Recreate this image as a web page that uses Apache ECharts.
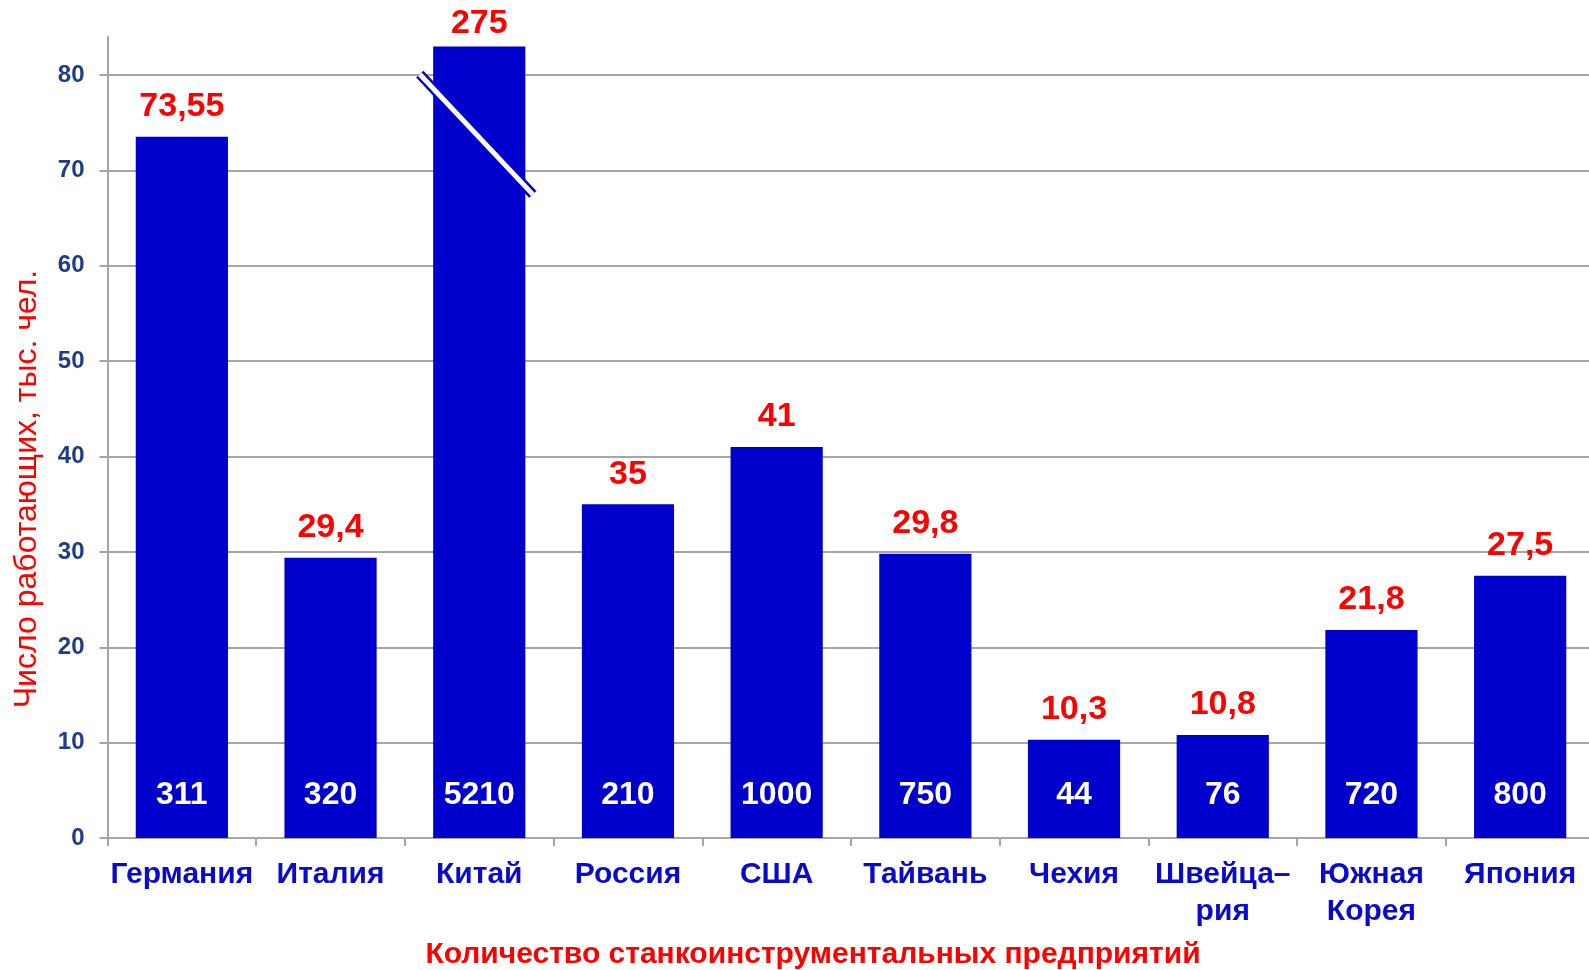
<!DOCTYPE html>
<html>
<head>
<meta charset="utf-8">
<script src="https://cdn.jsdelivr.net/npm/echarts@6/dist/echarts.min.js"></script>
<style>
html,body{margin:0;padding:0;background:#fff;}
#chart{width:1589px;height:970px;}
</style>
</head>
<body>
<div id="chart"></div>
<script>
// ---- data ----
const countries = ['Германия', 'Италия', 'Китай', 'Россия', 'США', 'Тайвань', 'Чехия', 'Швейца–\nрия', 'Южная\nКорея', 'Япония'];
const workers = [73.55, 29.4, 275, 35, 41, 29.8, 10.3, 10.8, 21.8, 27.5];       // тыс. чел.
const enterprises = [311, 320, 5210, 210, 1000, 750, 44, 76, 720, 800];
const yTicks = [0, 10, 20, 30, 40, 50, 60, 70, 80];
const axisCap = 83;        // bars above this are drawn broken
const yMax = 84;
const breakFrom = 80.1;    // value where break mark starts (left end)
const breakTo = 67.5;      // value where break mark ends (right end)

const shown = workers.map(v => v > axisCap ? { value: axisCap, label: { distance: 6 } } : v);
const fmt = v => String(v).replace('.', ',');

const chart = echarts.init(document.getElementById('chart'));
const FONT = '"Liberation Sans", Arial, sans-serif';

const option = {
  animation: false,
  grid: { left: 107.5, width: 1487, top: 37, bottom: 132, containLabel: false, outerBoundsMode: 'none' },
  xAxis: {
    type: 'category',
    data: countries,
    axisLine: { lineStyle: { color: '#a6a6a6', width: 2 } },
    axisTick: { show: true, length: 8, lineStyle: { color: '#a6a6a6', width: 2 } },
    axisLabel: {
      interval: 0, margin: 18, color: '#0a0acc', fontFamily: FONT,
      fontWeight: 'bold', fontSize: 30, lineHeight: 37
    },
    splitLine: { show: false }
  },
  yAxis: {
    type: 'value', min: 0, max: yMax, interval: 10,
    axisLine: { show: true, lineStyle: { color: '#a6a6a6', width: 2 } },
    axisTick: { show: true, length: 8, lineStyle: { color: '#a6a6a6', width: 2 }, customValues: yTicks },
    axisLabel: {
      margin: 23, color: '#1f3c88', fontFamily: FONT, fontWeight: 'bold', fontSize: 24,
      customValues: yTicks
    },
    splitLine: { show: true, lineStyle: { color: '#a6a6a6', width: 2 } }
  },
  series: [
    {
      type: 'bar',
      data: shown,
      barWidth: '62%',
      itemStyle: { color: '#0000cc' },
      label: {
        show: true, position: 'top', distance: 13,
        color: '#ff0000', fontFamily: FONT, fontWeight: 'bold', fontSize: 34,
        formatter: p => fmt(workers[p.dataIndex])
      },
      z: 2
    },
    {
      type: 'bar',
      data: workers.map(v => Math.min(v, axisCap)),
      barWidth: '62%',
      barGap: '-100%',
      itemStyle: { color: 'rgba(0,0,0,0)' },
      silent: true,
      label: {
        show: true, position: 'insideBottom', distance: 27,
        color: '#ffffff', fontFamily: FONT, fontWeight: 'bold', fontSize: 32,
        formatter: p => String(enterprises[p.dataIndex])
      },
      z: 3
    }
  ]
};
chart.setOption(option);

// break mark on the over-scale bar(s), placed through the axes
function drawBreaks() {
  const elements = [];
  workers.forEach((v, i) => {
    if (v <= axisCap) return;
    const c0 = chart.convertToPixel({ gridIndex: 0 }, [i, breakFrom]);
    const c1 = chart.convertToPixel({ gridIndex: 0 }, [i, breakTo]);
    const bw = chart.convertToPixel({ xAxisIndex: 0 }, 1) - chart.convertToPixel({ xAxisIndex: 0 }, 0);
    const x0 = c0[0] - bw * 0.4, x1 = c1[0] + bw * 0.36;
    const shape = { x1: x0, y1: c0[1], x2: x1, y2: c1[1] };
    elements.push({ type: 'line', shape, z: 10, style: { stroke: '#0000cc', lineWidth: 10, lineCap: 'butt' } });
    elements.push({ type: 'line', shape, z: 11, style: { stroke: '#ffffff', lineWidth: 5, lineCap: 'butt' } });
  });
  elements.push({
    type: 'text', x: 27, y: 489, rotation: Math.PI / 2, z: 12,
    style: { text: 'Число работающих, тыс. чел.', fill: '#ff0000', font: '32px ' + FONT, align: 'center', verticalAlign: 'middle' }
  });
  elements.push({
    type: 'text', x: 813, y: 955, z: 12,
    style: { text: 'Количество станкоинструментальных предприятий', fill: '#ff0000', font: 'bold 30px ' + FONT, align: 'center', verticalAlign: 'middle' }
  });
  chart.setOption({ graphic: elements });
}
drawBreaks();
</script>
</body>
</html>
